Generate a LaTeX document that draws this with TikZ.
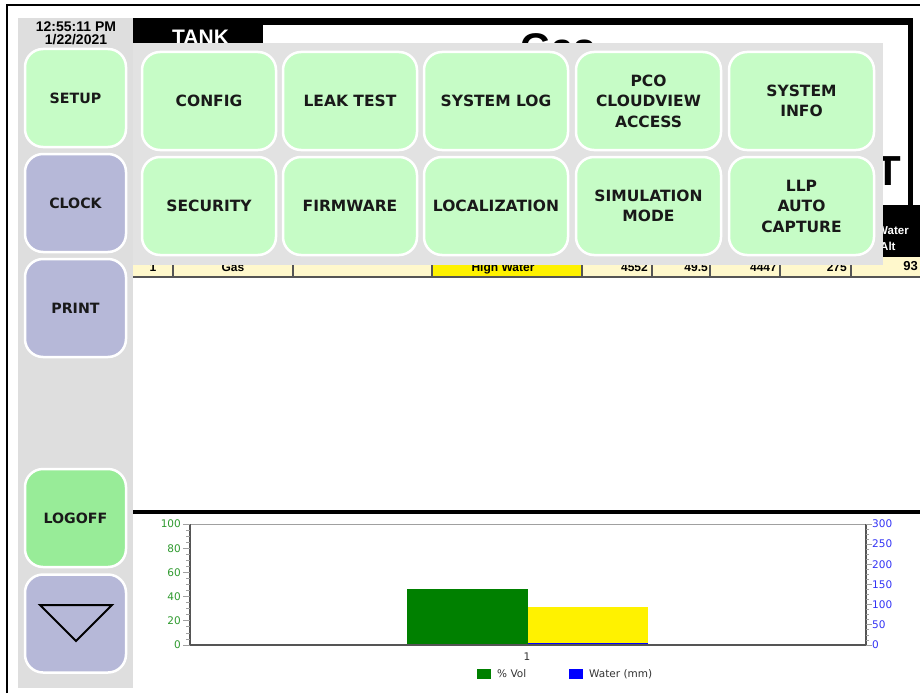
\documentclass[tikz,border=0pt]{standalone}
\usepackage{fontspec}
\setmainfont{Liberation Sans}
\newfontfamily\btnfamily{DejaVu Sans}
\newfontfamily\chartfamily{DejaVu Sans}
\definecolor{panelgray}{HTML}{DEDEDE}
\definecolor{popgray}{HTML}{E2E2E2}
\definecolor{mint}{HTML}{C6FCC6}
\definecolor{logoffgreen}{HTML}{98EC98}
\definecolor{lavender}{HTML}{B6B8D8}
\definecolor{rowcream}{HTML}{FFF8CC}
\definecolor{axgreen}{HTML}{2E9A2E}
\definecolor{axblue}{HTML}{3333F5}
\definecolor{axdark}{HTML}{555555}
\definecolor{tickgray}{HTML}{A0A0A0}
\definecolor{barblue}{HTML}{0000FF}
\definecolor{bargreen}{HTML}{008000}
\tikzset{
  anybtn/.style={draw=white, line width=2.5pt, rounded corners=18pt, inner sep=0pt,
    align=center, text=black!90},
  popbtn/.style={anybtn, fill=mint, minimum height=98pt,
    font=\btnfamily\bfseries\fontsize{15.5}{20.5}\selectfont},
  sidebtn/.style={anybtn, minimum width=101pt, minimum height=98pt,
    font=\btnfamily\bfseries\fontsize{14.2}{18}\selectfont},
  celltxt/.style={inner sep=0pt, font=\bfseries\fontsize{12}{14}\selectfont},
  axlbl/.style={inner sep=0pt, font=\chartfamily\fontsize{10.5}{13}\selectfont},
  legtxt/.style={inner sep=0pt, anchor=west, text=black!80, font=\chartfamily\fontsize{10.5}{13}\selectfont},
  divider/.style={draw=axdark, line width=1.2pt},
  clocktxt/.style={inner sep=0pt, anchor=base, font=\bfseries\fontsize{14}{14}\selectfont},
}
\begin{document}
\begin{tikzpicture}[x=1pt,y=-1pt]
\useasboundingbox (0,0) rectangle (920,693);
\fill[white] (0,0) rectangle (920,693);

% outer frame
\draw[line width=2pt] (7,693) -- (7,5) -- (920,5);

% left button column
\fill[panelgray] (18,18) rectangle (133,688);
\node[clocktxt] (time) at (76,31.5) {12:55:11 PM};
\node[clocktxt] (date) at (76,44.5) {1/22/2021};

% header strip, title box and table header
\fill[black] (133,18) rectangle (920,257);
\fill[white] (263,25) rectangle (908,205);
\fill[black] (908,18) rectangle (913,205);
\fill[white] (913,18) rectangle (920,205);
\node[inner sep=0pt, anchor=base west, text=white, font=\bfseries\fontsize{21}{21}\selectfont] (tank) at (172,45) {TANK};
\node[inner sep=0pt, anchor=base west, font=\bfseries\fontsize{40}{40}\selectfont] (title) at (520,61) {Gas};
\node[inner sep=0pt, anchor=base, font=\bfseries\fontsize{42}{42}\selectfont] (bigT) at (888,185) {T};
\node[inner sep=0pt, anchor=base west, text=white, font=\bfseries\fontsize{11.5}{11.5}\selectfont] (hwater) at (877,234) {Water};
\node[inner sep=0pt, anchor=base west, text=white, font=\bfseries\fontsize{11.5}{11.5}\selectfont] (halt) at (880,250) {Alt};

% tank status row
\fill[rowcream] (133,257) rectangle (920,276);
\fill[yellow] (432,257) rectangle (582,276);
\foreach \xd in {173,293,432,582,652,710,780,851}
  \draw[divider] (\xd,257) -- (\xd,276);
\draw[axdark, line width=2pt] (133,277) -- (920,277);
\node[celltxt, anchor=base] (c1) at (153,271) {1};
\node[celltxt, anchor=base] (c2) at (233,271) {Gas};
\node[celltxt, anchor=base] (c4) at (503,271) {High Water};
\node[celltxt, anchor=base east] (c5) at (648,271) {4552};
\node[celltxt, anchor=base east] (c6) at (708,271) {49.5};
\node[celltxt, anchor=base east] (c7) at (777,271) {4447};
\node[celltxt, anchor=base east] (c8) at (847,271) {275};
\node[celltxt, anchor=base east, font=\bfseries\fontsize{13}{14}\selectfont] (c9) at (918,270) {93};

% setup pop-up menu
\fill[popgray] (133,43) rectangle (883,265);
\node[popbtn, minimum width=134pt] (config)  at (209,101)   {CONFIG};
\node[popbtn, minimum width=134pt] (leak)    at (350,101)   {LEAK TEST};
\node[popbtn, minimum width=144pt] (syslog)  at (496,101)   {SYSTEM LOG};
\node[popbtn, minimum width=145pt] (pco)     at (648.5,101) {PCO\\CLOUDVIEW\\ACCESS};
\node[popbtn, minimum width=145pt] (sysinfo) at (801.5,101) {SYSTEM\\INFO};
\node[popbtn, minimum width=134pt] (secur)   at (209,206)   {SECURITY};
\node[popbtn, minimum width=134pt] (firm)    at (350,206)   {FIRMWARE};
\node[popbtn, minimum width=144pt] (local)   at (496,206)   {LOCALIZATION};
\node[popbtn, minimum width=145pt] (simmode) at (648.5,206) {SIMULATION\\MODE};
\node[popbtn, minimum width=145pt] (llp)     at (801.5,206) {LLP\\AUTO\\CAPTURE};

% side buttons
\node[sidebtn, fill=mint]        (setup)  at (75.5,98)    {SETUP};
\node[sidebtn, fill=lavender]    (clock)  at (75.5,203)   {CLOCK};
\node[sidebtn, fill=lavender]    (print)  at (75.5,308)   {PRINT};
\node[sidebtn, fill=logoffgreen] (logoff) at (75.5,518)   {LOGOFF};
\node[sidebtn, fill=lavender]    (down)   at (75.5,623.5) {};
\draw[line width=2pt, line join=miter] (40,605) -- (112,605) -- (76,641) -- cycle;

% chart panel separator
\draw[black, line width=4pt] (133,512) -- (920,512);

% bars
\fill[bargreen] (407,589) rectangle (528,645);
\fill[yellow] (528,607) rectangle (648,645);
\draw[barblue, line width=1.5pt] (528,643.5) -- (648,643.5);

% plot frame
\draw[tickgray, line width=1pt] (190,524) -- (866,524);
\draw[axdark, line width=2pt] (190,524) -- (190,645) -- (866,645) -- (866,524);

% left axis (% Vol)
\foreach \v in {5,10,15,25,30,35,45,50,55,65,70,75,85,90,95}
  \draw[tickgray, line width=0.8pt] (186,645-1.21*\v) -- (190,645-1.21*\v);
\foreach \v in {0,20,...,100}{
  \draw[tickgray, line width=1pt] (183,645-1.21*\v) -- (190,645-1.21*\v);
  \node[axlbl, anchor=east, text=axgreen] at (181,645-1.21*\v) {\v};
}
% right axis (water)
\foreach \w in {12.5,25,37.5,62.5,75,87.5,112.5,125,137.5,162.5,175,187.5,212.5,225,237.5,262.5,275,287.5}
  \draw[tickgray, line width=0.8pt] (866,645-0.40333*\w) -- (869,645-0.40333*\w);
\foreach \w in {0,50,...,300}{
  \draw[tickgray, line width=1pt] (866,645-0.40333*\w) -- (872,645-0.40333*\w);
  \node[axlbl, anchor=west, text=axblue] at (872,645-0.40333*\w) {\w};
}

% category label and legend
\node[axlbl, text=black!80] (cat) at (527,657) {1};
\fill[bargreen] (477,669) rectangle (491,679);
\node[legtxt] (lvol) at (497,674) {\% Vol};
\fill[barblue] (569,669) rectangle (583,679);
\node[legtxt] (lwat) at (589,674) {Water (mm)};
\end{tikzpicture}
\end{document}
